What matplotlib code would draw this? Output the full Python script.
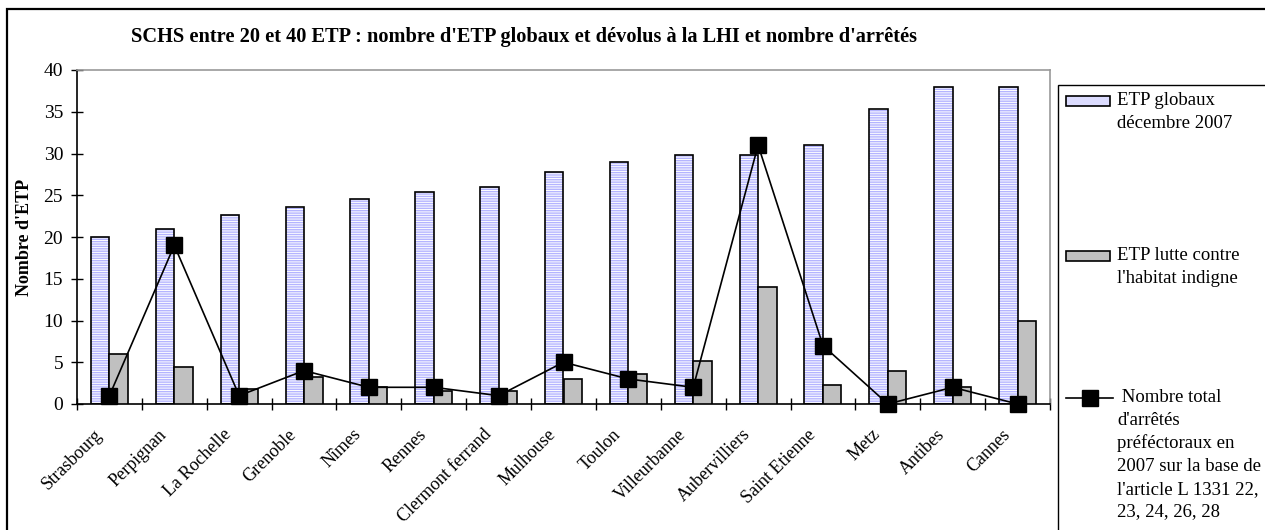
import matplotlib
matplotlib.use("Agg")
import matplotlib.pyplot as plt
import matplotlib.transforms as mtransforms
import numpy as np
from matplotlib.patches import Rectangle
from matplotlib.lines import Line2D

plt.rcParams["font.family"] = ["Liberation Serif", "DejaVu Serif"]

villes = ["Strasbourg", "Perpignan", "La Rochelle", "Grenoble", "Nîmes", "Rennes",
          "Clermont ferrand", "Mulhouse", "Toulon", "Villeurbanne", "Aubervilliers",
          "Saint Etienne", "Metz", "Antibes", "Cannes"]
etp_globaux = [20, 21, 22.6, 23.6, 24.6, 25.4, 26, 27.8, 29, 29.8, 29.8, 31, 35.3, 38, 38]
etp_lhi = [6, 4.4, 1.8, 3.2, 2, 1.6, 1.6, 3, 3.6, 5.2, 14, 2.3, 4, 2, 10]
arretes = [1, 19, 1, 4, 2, 2, 1, 5, 3, 2, 31, 7, 0, 2, 0]

W, H = 1265, 530
fig = plt.figure(figsize=(W / 100, H / 100), dpi=100)

# outer chart frame
fig.patches.append(Rectangle((7 / W, -0.1), 1.2, 1 - 9 / H + 0.1, transform=fig.transFigure,
                             fill=False, edgecolor="black", linewidth=1.6))

ax = fig.add_axes([77 / W, 1 - 404 / H, (1050 - 77) / W, (404 - 70) / H])
x = np.arange(len(villes))
bw = 0.285

ax.bar(x - bw / 2, etp_globaux, bw, color="white", edgecolor="#b4b4ff", hatch="-------",
       linewidth=0, zorder=2)
ax.bar(x - bw / 2, etp_globaux, bw, fill=False, edgecolor="black", linewidth=1.2, zorder=3)
ax.bar(x + bw / 2, etp_lhi, bw, color="#c0c0c0", edgecolor="black", linewidth=1.2, zorder=3)
ax.plot(x, arretes, color="black", linewidth=1.2, marker="s", markersize=11, zorder=4,
        clip_on=False)

ax.set_xlim(-0.5, len(villes) - 0.5)
ax.set_ylim(0, 40)
ax.set_yticks(range(0, 41, 5))
ax.set_xticks(np.arange(-0.5, len(villes), 1.0))
ax.set_xticklabels([])
ax.set_xticks(x, villes, minor=True)
ax.tick_params(axis="x", which="minor", length=0, pad=0)
shift = mtransforms.ScaledTranslation(-10 / 100, -28 / 100, fig.dpi_scale_trans)
for lab in ax.get_xticklabels(minor=True):
    lab.set_rotation(45)
    lab.set_ha("right")
    lab.set_va("center")
    lab.set_rotation_mode("anchor")
    lab.set_fontsize(13)
    lab.set_transform(lab.get_transform() + shift)
ax.tick_params(axis="both", which="major", direction="inout", length=8, width=1,
               labelsize=14)
ax.tick_params(axis="y", pad=6)

for side in ["top", "right"]:
    ax.spines[side].set_color("#999999")
    ax.spines[side].set_linewidth(1.2)
for side in ["left", "bottom"]:
    ax.spines[side].set_linewidth(1.2)

ax.set_ylabel("Nombre d'ETP", fontsize=13, fontweight="bold")
ax.yaxis.set_label_coords(-0.045, 0.5)

fig.text(524 / W, 1 - 37 / H,
         "SCHS entre 20 et 40 ETP : nombre d'ETP globaux et dévolus à la LHI et nombre d'arrêtés",
         ha="center", va="center", fontsize=14.7, fontweight="bold")

# legend panel
fig.patches.append(Rectangle((1058 / W, -0.1), 1.0, 1 - 85 / H + 0.1, transform=fig.transFigure,
                             fill=False, edgecolor="black", linewidth=1.0))
lx0, lx1 = 1066 / W, 1110 / W
ph = 10 / H
for y_px, kw in [(101, dict(facecolor="#dcdcff")), (256, dict(facecolor="#c0c0c0"))]:
    fig.patches.append(Rectangle((lx0, 1 - y_px / H - ph / 2), lx1 - lx0, ph,
                                 transform=fig.transFigure, edgecolor="black",
                                 linewidth=1.2, **kw))
fig.lines.append(Line2D([lx0, 1113 / W], [1 - 398 / H] * 2, transform=fig.transFigure,
                        color="black", linewidth=1.2))
fig.lines.append(Line2D([1090 / W], [1 - 398 / H], transform=fig.transFigure,
                        color="black", marker="s", markersize=11))

leg_texts = [(101, "ETP globaux\ndécembre 2007"),
             (256, "ETP lutte contre\nl'habitat indigne"),
             (398, " Nombre total\nd'arrêtés\npréféctoraux en\n2007 sur la base de\n"
                   "l'article L 1331 22,\n23, 24, 26, 28")]
for y_px, txt in leg_texts:
    fig.text(1117 / W, 1 - (y_px - 9) / H, txt, ha="left", va="top", fontsize=13.5,
             linespacing=1.43)

fig.savefig("out.png", dpi=100)
